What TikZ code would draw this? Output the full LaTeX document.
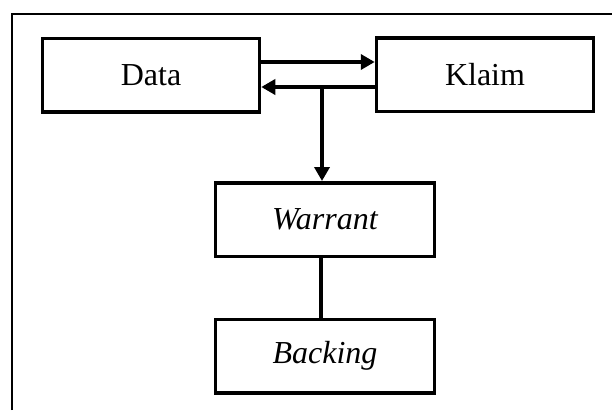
\documentclass[tikz,border=0pt]{standalone}
\usepackage{fontspec}
\setmainfont{Liberation Serif}
\usetikzlibrary{arrows.meta}
\begin{document}
\begin{tikzpicture}[x=1pt,y=1pt,
  box/.style={draw, line width=3.5pt, inner sep=0pt, minimum width=217pt, minimum height=73.5pt, font=\fontsize{32}{36}\selectfont},
  arr/.style={line width=3.5pt, -{Triangle[length=14pt,width=15pt]}},
  link/.style={line width=3.5pt}]
  \useasboundingbox (0,0) rectangle (612,-410);
  % open frame: top and left sides only
  \draw[line width=2pt] (12,-410) -- (12,-14) -- (612,-14);
  % boxes
  \node[box] (data) at (151,-75) {Data};
  \node[box] (klaim) at (485,-74.5) {Klaim};
  \node[box, minimum width=219pt] (warrant) at (325,-219.5) {\itshape Warrant};
  \node[box, minimum width=219pt] (backing) at (325,-356) {\itshape Backing};
  % connectors
  \draw[arr] ([yshift=13pt]data.east) -- ([yshift=13pt]data.east -| klaim.west);
  \draw[arr] ([yshift=-12.5pt]klaim.west) -- ([yshift=-12.5pt]klaim.west -| data.east);
  \coordinate (j) at (322,-87);
  \draw[arr] (j) -- (j |- warrant.north);
  \draw[link] (warrant.south -| 321,0) -- (backing.north -| 321,0);
\end{tikzpicture}
\end{document}
